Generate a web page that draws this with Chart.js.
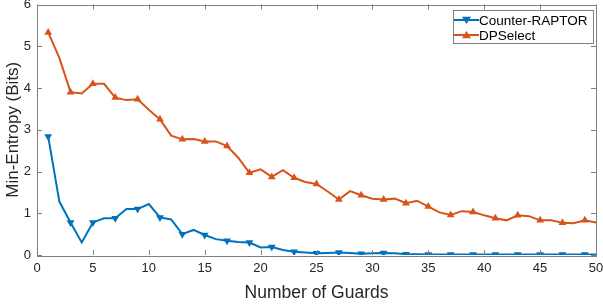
<!DOCTYPE html>
<html>
<head>
<meta charset="utf-8">
<script src="https://cdn.jsdelivr.net/npm/chart.js"></script>
<style>
  html, body { margin: 0; padding: 0; background: #fff; }
  #wrap { width: 603px; height: 304px; }
</style>
</head>
<body>
<div id="wrap"><canvas id="c"></canvas></div>
<script>
// number of guards 1..50
const guards = [1,2,3,4,5,6,7,8,9,10,11,12,13,14,15,16,17,18,19,20,21,22,23,24,25,
  26,27,28,29,30,31,32,33,34,35,36,37,38,39,40,41,42,43,44,45,46,47,48,49,50];
const counterRaptor = [2.84,1.28,0.78,0.30,0.78,0.88,0.88,1.10,1.10,1.22,0.90,0.85,0.50,0.60,0.48,0.38,0.34,0.31,0.30,0.18,
  0.19,0.12,0.08,0.06,0.04,0.05,0.06,0.05,0.03,0.04,0.05,0.04,0.02,0.02,0.01,0.01,0.01,0.01,0.01,0.01,
  0.01,0.01,0.01,0.01,0.01,0.01,0.01,0.01,0.01,0.01];
const dpSelect = [5.33,4.72,3.90,3.87,4.10,4.10,3.77,3.71,3.73,3.48,3.25,2.86,2.77,2.78,2.72,2.72,2.61,2.33,1.97,2.05,
  1.87,2.03,1.85,1.75,1.70,1.52,1.33,1.53,1.43,1.35,1.33,1.35,1.24,1.30,1.16,1.02,0.96,1.05,1.03,0.95,
  0.88,0.83,0.95,0.93,0.83,0.83,0.77,0.76,0.83,0.78];
const xTicks = [0,5,10,15,20,25,30,35,40,45,50];
const yTicks = [0,1,2,3,4,5,6];
const seriesNames = ['Counter-RAPTOR', 'DPSelect'];

const BLUE = '#0072BD', ORANGE = '#D95319';
const FONT = '"Liberation Sans", Arial, sans-serif';
const AXIS = '#808080';

const pts = ys => ys.map((y, i) => ({ x: guards[i], y }));
const marker = ctx => (ctx.dataIndex % 2 === 0 ? 4.5 : 0);

// MATLAB-style box, inward ticks, and legend
const boxPlugin = {
  id: 'box',
  afterDraw(chart) {
    const { ctx, chartArea: a, scales } = chart;
    ctx.save();
    ctx.strokeStyle = AXIS;
    ctx.lineWidth = 1;
    ctx.strokeRect(Math.round(a.left) + 0.5, Math.round(a.top) + 0.5,
      Math.round(a.right - a.left), Math.round(a.bottom - a.top));
    ctx.beginPath();
    xTicks.forEach(t => {
      const x = Math.round(scales.x.getPixelForValue(t)) + 0.5;
      ctx.moveTo(x, a.bottom); ctx.lineTo(x, a.bottom - 5);
      ctx.moveTo(x, a.top); ctx.lineTo(x, a.top + 5);
    });
    yTicks.forEach(t => {
      const y = Math.round(scales.y.getPixelForValue(t)) + 0.5;
      ctx.moveTo(a.left, y); ctx.lineTo(a.left + 5, y);
      ctx.moveTo(a.right, y); ctx.lineTo(a.right - 5, y);
    });
    ctx.stroke();

    // legend
    const lx = 453, ly = 10, lw = 140, lh = 33;
    ctx.fillStyle = '#fff';
    ctx.fillRect(lx, ly, lw, lh);
    ctx.strokeStyle = AXIS;
    ctx.strokeRect(lx + 0.5, ly + 0.5, lw, lh);
    const rows = [[seriesNames[0], BLUE, true], [seriesNames[1], ORANGE, false]];
    rows.forEach(([name, col, down], i) => {
      const cy = ly + 10 + i * 15;
      ctx.strokeStyle = col;
      ctx.lineWidth = 2;
      ctx.beginPath(); ctx.moveTo(lx + 1, cy); ctx.lineTo(lx + 26, cy); ctx.stroke();
      ctx.fillStyle = col;
      ctx.beginPath();
      const mx = lx + 13.5, r = 4.5;
      if (down) {
        ctx.moveTo(mx - r, cy - r * 0.7); ctx.lineTo(mx + r, cy - r * 0.7); ctx.lineTo(mx, cy + r * 0.9);
      } else {
        ctx.moveTo(mx - r, cy + r * 0.7); ctx.lineTo(mx + r, cy + r * 0.7); ctx.lineTo(mx, cy - r * 0.9);
      }
      ctx.closePath(); ctx.fill();
      ctx.fillStyle = '#000';
      ctx.font = '13.5px ' + FONT;
      ctx.textBaseline = 'middle';
      ctx.fillText(name, lx + 26, cy + 1);
    });
    ctx.restore();
  }
};

new Chart(document.getElementById('c'), {
  type: 'line',
  data: {
    datasets: [
      { label: seriesNames[0], data: pts(counterRaptor), borderColor: BLUE, backgroundColor: BLUE,
        borderWidth: 2, pointStyle: 'triangle', rotation: 180, pointRadius: marker, pointBorderWidth: 0, tension: 0 },
      { label: seriesNames[1], data: pts(dpSelect), borderColor: ORANGE, backgroundColor: ORANGE,
        borderWidth: 2, pointStyle: 'triangle', pointRadius: marker, pointBorderWidth: 0, tension: 0 }
    ]
  },
  options: {
    responsive: true,
    maintainAspectRatio: false,
    animation: false,
    layout: { padding: { top: 4, right: 7, left: 0, bottom: 0 } },
    plugins: { legend: { display: false }, tooltip: { enabled: false } },
    scales: {
      x: {
        type: 'linear', min: 0, max: 50,
        grid: { display: false, drawTicks: false }, border: { display: false },
        afterBuildTicks: s => { s.ticks = xTicks.map(v => ({ value: v })); },
        afterFit: s => { s.height = 49; s.paddingLeft = 0; s.paddingRight = 0; },
        ticks: { color: '#262626', font: { family: FONT, size: 13 }, padding: 6, maxRotation: 0 },
        title: { display: true, text: 'Number of Guards', color: '#262626',
          font: { family: FONT, size: 17.5 }, padding: { top: 0, bottom: 0 } }
      },
      y: {
        min: 0, max: 6,
        grid: { display: false, drawTicks: false }, border: { display: false },
        afterBuildTicks: s => { s.ticks = yTicks.map(v => ({ value: v })); },
        afterFit: s => { s.width = 37; s.paddingTop = 0; s.paddingBottom = 0; },
        ticks: { color: '#262626', font: { family: FONT, size: 13 }, padding: 6 },
        title: { display: true, text: 'Min-Entropy (Bits)', color: '#262626',
          font: { family: FONT, size: 17 }, padding: { top: 3, bottom: 0 } }
      }
    }
  },
  plugins: [boxPlugin]
});
</script>
</body>
</html>
